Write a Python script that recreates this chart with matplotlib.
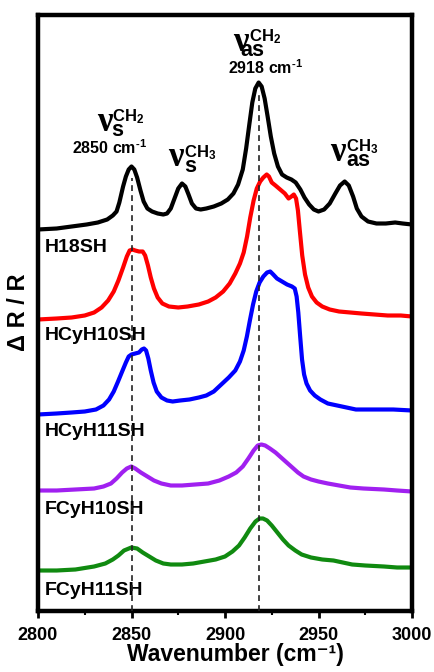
import matplotlib
matplotlib.use('Agg')
import matplotlib.pyplot as plt
from matplotlib.ticker import MultipleLocator

plt.rcParams['font.family'] = ['Liberation Sans', 'DejaVu Sans']
plt.rcParams['font.weight'] = 'bold'
plt.rcParams['mathtext.fontset'] = 'custom'
plt.rcParams['mathtext.rm'] = 'Liberation Sans:bold'
plt.rcParams['mathtext.bf'] = 'Liberation Sans:bold'
plt.rcParams['mathtext.it'] = 'Liberation Sans:bold'
plt.rcParams['mathtext.default'] = 'bf'

# ---------------- data (offset spectra, arbitrary units) ----------------
h18_x = [2800, 2810, 2818, 2826, 2832, 2837, 2840, 2842, 2843.5, 2845.5, 2847, 2848.5, 2850,
         2851.5, 2853, 2854.8, 2856.5, 2858.5, 2861, 2864, 2867, 2869, 2871, 2873, 2875, 2877,
         2878.8, 2880.5, 2882.3, 2884.5, 2887, 2890, 2894, 2898, 2901.5, 2904.5, 2907, 2909.5,
         2911.3, 2913, 2914.6, 2916.2, 2918, 2919.6, 2921.2, 2922.8, 2924.5, 2926.3, 2928.3,
         2930.5, 2933, 2935.5, 2937.8, 2940.3, 2942.5, 2945, 2947.5, 2950, 2953, 2956, 2959,
         2961.5, 2964, 2966.2, 2968.5, 2970.5, 2973, 2976.5, 2981, 2986, 2991, 2995, 3000]
h18_y = [3.81, 3.82, 3.84, 3.86, 3.88, 3.91, 3.95, 3.99, 4.08, 4.24, 4.34, 4.41, 4.44,
         4.41, 4.33, 4.20, 4.09, 4.02, 3.99, 3.97, 3.96, 3.97, 4.02, 4.12, 4.22, 4.27,
         4.24, 4.16, 4.07, 4.02, 4.01, 4.02, 4.04, 4.07, 4.11, 4.17, 4.26, 4.41,
         4.62, 4.86, 5.08, 5.22, 5.28, 5.24, 5.12, 4.94, 4.74, 4.57, 4.44,
         4.36, 4.33, 4.31, 4.28, 4.21, 4.13, 4.06, 4.01, 3.99, 4.01, 4.07, 4.17,
         4.25, 4.29, 4.25, 4.14, 4.02, 3.94, 3.89, 3.87, 3.87, 3.88, 3.87, 3.86]

hcyh10_x = [2800, 2810, 2818, 2825, 2830, 2834, 2837.5, 2840.5, 2843, 2845.5, 2847.5, 2849,
            2850.5, 2852, 2854, 2856, 2857.3, 2858.8, 2860.3, 2862, 2864, 2866.5, 2870, 2875,
            2880, 2886, 2891, 2895, 2899, 2902.5, 2905.5, 2908, 2910, 2911.8, 2913.5, 2915.3,
            2917, 2918.8, 2920.5, 2922.3, 2923.5, 2925, 2927, 2929.5, 2932, 2934, 2935.5,
            2936.8, 2938, 2939, 2940, 2941.3, 2942.8, 2944.5, 2946.5, 2949, 2952, 2956, 2961,
            2967, 2973, 2980, 2987, 2994, 3000]
hcyh10_y = [2.91, 2.92, 2.93, 2.95, 2.98, 3.03, 3.10, 3.19, 3.30, 3.43, 3.54, 3.60,
            3.61, 3.60, 3.59, 3.59, 3.55, 3.45, 3.33, 3.22, 3.13, 3.07, 3.04, 3.03,
            3.04, 3.06, 3.09, 3.13, 3.19, 3.27, 3.37, 3.47, 3.58, 3.74, 3.93, 4.10,
            4.22, 4.29, 4.33, 4.36, 4.34, 4.28, 4.25, 4.21, 4.17, 4.12, 4.14,
            4.16, 4.12, 4.00, 3.80, 3.55, 3.36, 3.23, 3.14, 3.08, 3.04, 3.01, 2.99,
            2.98, 2.97, 2.96, 2.95, 2.95, 2.94]

hcyh11_x = [2800, 2810, 2818, 2825, 2831, 2835, 2838, 2840.5, 2842.8, 2845, 2847, 2848.5,
            2850, 2852, 2854, 2855.5, 2856.7, 2857.8, 2859, 2860.3, 2861.8, 2863.5, 2866,
            2869, 2872, 2876, 2881, 2886, 2890, 2894, 2898, 2902, 2905.5, 2908, 2910,
            2911.7, 2913.3, 2915, 2916.7, 2918.5, 2920.5, 2922.5, 2924.2, 2925.8, 2927.8,
            2930.5, 2933.2, 2935.8, 2937.3, 2938.3, 2939.2, 2940.2, 2941.2, 2942.3, 2943.6,
            2945.5, 2948, 2951, 2955, 2960, 2965, 2970, 2980, 2990, 3000]
hcyh11_y = [1.96, 1.97, 1.98, 1.99, 2.01, 2.05, 2.11, 2.19, 2.29, 2.39, 2.48, 2.54,
            2.56, 2.57, 2.58, 2.61, 2.62, 2.60, 2.52, 2.40, 2.28, 2.19, 2.13,
            2.10, 2.09, 2.10, 2.11, 2.13, 2.15, 2.19, 2.26, 2.33, 2.40, 2.49, 2.60,
            2.74, 2.90, 3.06, 3.19, 3.28, 3.34, 3.38, 3.39, 3.36, 3.32,
            3.29, 3.26, 3.24, 3.22, 3.14, 2.98, 2.74, 2.51, 2.36, 2.27,
            2.20, 2.15, 2.11, 2.07, 2.05, 2.03, 2.01, 2.01, 2.01, 2.00]

fcyh10_x = [2800, 2810, 2820, 2830, 2835, 2839, 2842, 2845, 2847.5, 2849.9, 2852, 2855,
            2858.5, 2862, 2866, 2871, 2877, 2884, 2891, 2897, 2902, 2906, 2909.5, 2912.5,
            2915.3, 2917.5, 2919.5, 2921.5, 2924, 2927, 2930, 2933, 2936, 2939, 2942, 2946,
            2950, 2955, 2961, 2967, 2974, 2985, 2992, 3000]
fcyh10_y = [1.20, 1.20, 1.21, 1.22, 1.24, 1.27, 1.32, 1.38, 1.42, 1.44, 1.42, 1.38,
            1.34, 1.30, 1.27, 1.25, 1.25, 1.26, 1.27, 1.30, 1.34, 1.38, 1.44, 1.52,
            1.60, 1.65, 1.66, 1.65, 1.62, 1.58, 1.53, 1.48, 1.43, 1.38, 1.34, 1.31,
            1.29, 1.27, 1.25, 1.23, 1.22, 1.21, 1.20, 1.19]

fcyh11_x = [2800, 2810, 2820, 2830, 2836, 2840, 2843, 2846, 2849.9, 2853, 2856, 2859.5,
            2863, 2867, 2871, 2877, 2883, 2889, 2895, 2900, 2904, 2907.5, 2910.5, 2913.5,
            2916.3, 2918.5, 2920.3, 2922.5, 2925, 2928, 2931, 2934, 2937.6, 2941, 2946,
            2952, 2958, 2963, 2968, 2975, 2985, 2992, 3000]
fcyh11_y = [0.40, 0.40, 0.41, 0.44, 0.47, 0.51, 0.55, 0.60, 0.63, 0.62, 0.58, 0.54,
            0.50, 0.47, 0.46, 0.46, 0.47, 0.49, 0.51, 0.54, 0.59, 0.65, 0.73, 0.82,
            0.89, 0.92, 0.92, 0.90, 0.85, 0.78, 0.71, 0.65, 0.60, 0.56, 0.53,
            0.51, 0.50, 0.48, 0.46, 0.45, 0.44, 0.43, 0.43]

names = ['H18SH', 'HCyH10SH', 'HCyH11SH', 'FCyH10SH', 'FCyH11SH']
peak_positions = [2850, 2918]
x_ticks = [2800, 2850, 2900, 2950, 3000]

# ---------------- figure ----------------
fig = plt.figure(figsize=(4.34, 6.72), dpi=100)
ax = fig.add_axes([38 / 434, 1 - 610.5 / 672, 374 / 434, 596 / 672])

series = [(h18_x, h18_y), (hcyh10_x, hcyh10_y), (hcyh11_x, hcyh11_y),
          (fcyh10_x, fcyh10_y), (fcyh11_x, fcyh11_y)]
colors = ['#000000', '#ff0000', '#0000ff', '#a020f0', '#108a10']
label_base = [3.59, 2.70, 1.75, 0.965, 0.155]

for (xs, ys), c, name, ly in zip(series, colors, names, label_base):
    ax.plot(xs, ys, color=c, lw=3.0, solid_joinstyle='round', solid_capstyle='round', zorder=2)
    ax.text(2803.7, ly, name, fontsize=14, fontweight='bold', ha='left', va='baseline')

line_tops = [4.33, 5.17]
for xp, top in zip(peak_positions, line_tops):
    ax.vlines(xp, 0, top, colors='#222222', linestyles=(0, (3.5, 2.5)), lw=1.2, zorder=3)

HY = '\u2010'


def nu_label(x, y, sub, sup, sub_dx=10.5, sup_dx=10.5, sub_dy=-3.6, sup_dy=6.8):
    ax.text(x, y, '\u03bd', fontsize=25, family='Liberation Serif', fontweight='bold',
            ha='left', va='baseline')
    ax.annotate(sub, (x, y), xytext=(sub_dx, sub_dy), textcoords='offset points',
                fontsize=15.5, fontweight='bold', ha='left', va='baseline')
    ax.annotate(sup, (x, y), xytext=(sup_dx, sup_dy), textcoords='offset points',
                fontsize=12, ha='left', va='baseline')


nu_label(2831.6, 4.80, 's', r'$\mathbf{CH}_{\mathbf{2}}$')
nu_label(2869.5, 4.44, 's', r'$\mathbf{CH}_{\mathbf{3}}$', sub_dx=11.5, sup_dx=11.5)
nu_label(2904.3, 5.60, 'as', r'$\mathbf{CH}_{\mathbf{2}}$', sub_dx=5, sup_dx=11.5, sub_dy=-4.2)
nu_label(2956.1, 4.50, 'as', r'$\mathbf{CH}_{\mathbf{3}}$', sub_dx=11.5, sup_dx=11.5)

ax.text(2838.2, 4.57, '2850 cm$^{\\mathbf{' + HY + '1}}$', fontsize=11.5, fontweight='bold',
        ha='center', va='baseline')
ax.text(2921.7, 5.365, '2918 cm$^{\\mathbf{' + HY + '1}}$', fontsize=11.5, fontweight='bold',
        ha='center', va='baseline')

ax.set_xlim(2800, 3000)
ax.set_ylim(0, 5.96)
ax.set_xticks(x_ticks)
ax.xaxis.set_minor_locator(MultipleLocator(25))
ax.tick_params(axis='x', which='major', direction='out', length=5, width=2, pad=7, labelsize=13)
ax.tick_params(axis='x', which='minor', direction='out', length=3, width=1.5)
ax.tick_params(axis='y', which='both', left=False, labelleft=False)
for lab in ax.get_xticklabels():
    lab.set_fontweight('bold')

for s in ax.spines.values():
    s.set_linewidth(3.2)

ax.set_xlabel('Wavenumber (cm\u207b\u00b9)', fontsize=16.5, fontweight='bold')
ax.xaxis.set_label_coords(0.529, -0.0545)
ax.set_ylabel('\u0394 R / R', fontsize=17, fontweight='bold')
ax.yaxis.set_label_coords(-0.021, 0.5)

fig.savefig('out.png', dpi=100)
